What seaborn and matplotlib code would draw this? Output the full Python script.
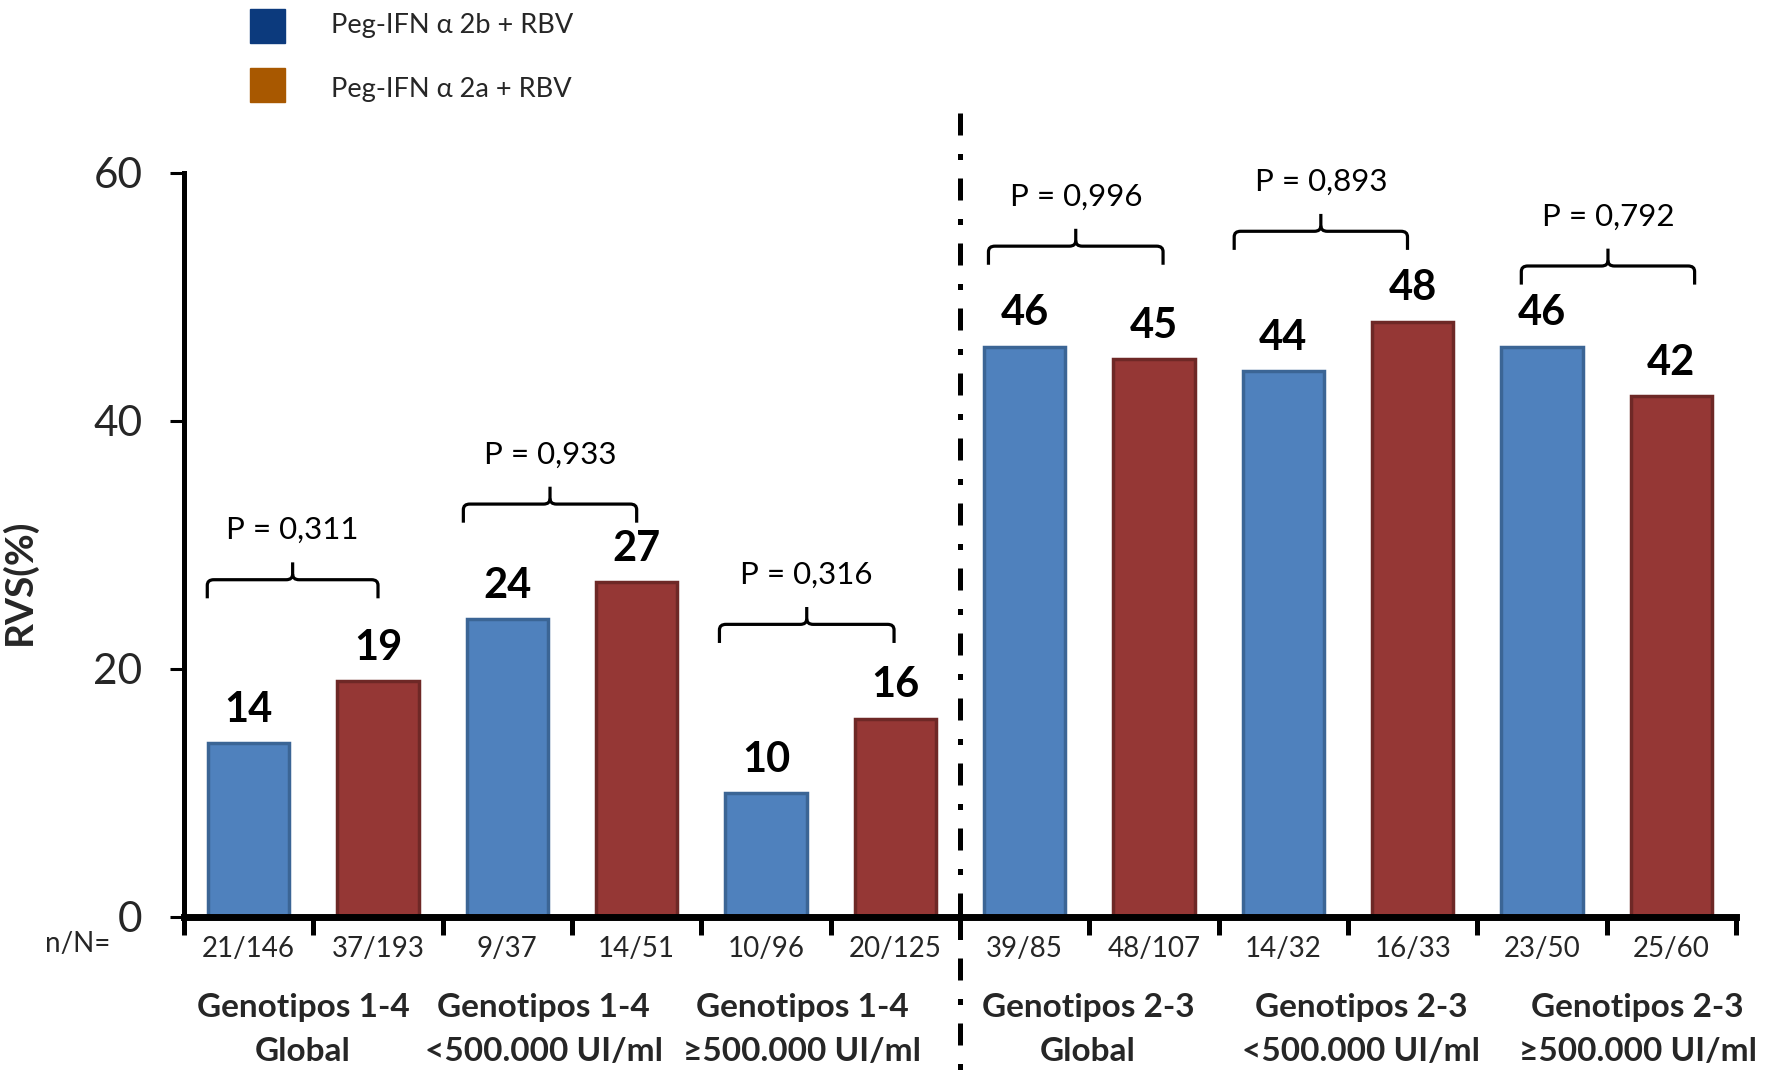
import numpy as np
import pandas as pd
import matplotlib
matplotlib.use("Agg")
import matplotlib.pyplot as plt
import matplotlib.transforms as mtransforms
from matplotlib.patches import Rectangle, PathPatch
from matplotlib.path import Path
import seaborn as sns

# ---------------- data ----------------
treatments = ["Peg-IFN α 2b + RBV", "Peg-IFN α 2a + RBV"]
nN_labels = ["21/146", "37/193", "9/37", "14/51", "10/96", "20/125",
             "39/85", "48/107", "14/32", "16/33", "23/50", "25/60"]
rvs_values = [14, 19, 24, 27, 10, 16, 46, 45, 44, 48, 46, 42]
bar_treatment = ["Peg-IFN α 2b + RBV", "Peg-IFN α 2a + RBV",
                 "Peg-IFN α 2b + RBV", "Peg-IFN α 2a + RBV",
                 "Peg-IFN α 2b + RBV", "Peg-IFN α 2a + RBV",
                 "Peg-IFN α 2b + RBV", "Peg-IFN α 2a + RBV",
                 "Peg-IFN α 2b + RBV", "Peg-IFN α 2a + RBV",
                 "Peg-IFN α 2b + RBV", "Peg-IFN α 2a + RBV"]
group_labels = ["Genotipos 1-4\nGlobal", "Genotipos 1-4\n<500.000 UI/ml",
                "Genotipos 1-4\n≥500.000 UI/ml", "Genotipos 2-3\nGlobal",
                "Genotipos 2-3\n<500.000 UI/ml", "Genotipos 2-3\n≥500.000 UI/ml"]
p_labels = ["P = 0,311", "P = 0,933", "P = 0,316", "P = 0,996", "P = 0,893", "P = 0,792"]
y_ticks = [0, 20, 40, 60]

# ---------------- layout / style ----------------
bar_colors = ["#4F81BD", "#953735"]
bar_edges = {"#4f81bd": "#3B6595", "#953735": "#6E2826"}
legend_colors = ["#0C3A7D", "#A85800"]
group_label_x = [0.42, 2.28, 4.28, 6.49, 8.6, 10.74]
bracket_x = [(-0.32, 1.0), (1.66, 3.0), (3.64, 4.99), (5.72, 7.07), (7.62, 8.96), (9.84, 11.18)]
bracket_y = [27.2, 33.3, 23.6, 54.1, 55.3, 52.5]

sns.set_theme(style="ticks")
plt.rcParams["font.family"] = ["Lato", "DejaVu Sans"]

W, H = 1771, 1088
fig = plt.figure(figsize=(W / 100, H / 100), dpi=100)
ax = fig.add_axes([184 / W, 1 - 917 / H, (1736 - 184) / W, (917 - 173) / H])

df = pd.DataFrame({"nN": nN_labels, "RVS": rvs_values, "Tratamiento": bar_treatment})
sns.barplot(data=df, x="nN", y="RVS", hue="Tratamiento", order=nN_labels,
            hue_order=treatments, palette=bar_colors, dodge=False, width=0.63,
            legend=False, ax=ax, saturation=1)

for p in ax.patches:
    fc = matplotlib.colors.to_hex(p.get_facecolor()).lower()
    p.set_edgecolor(bar_edges.get(fc, "#333333"))
    p.set_linewidth(2.5)
    h = p.get_height()
    if np.isfinite(h) and h > 0:
        ax.annotate(f"{h:.0f}", (p.get_x() + p.get_width() / 2, h),
                    xytext=(0, 24), textcoords="offset points",
                    ha="center", va="center", fontsize=30, fontweight="bold",
                    color="black")

ax.set_xlim(-0.5, 11.5)
ax.set_ylim(0, 60)
ax.set_yticks(y_ticks)
ax.tick_params(axis="y", labelsize=30.5, length=10, width=2.2, pad=20, color="black")
ax.set_xticks(range(len(nN_labels)))
ax.set_xticklabels(nN_labels)
ax.tick_params(axis="x", which="major", length=0, labelsize=20, pad=14)
ax.set_xticks(np.arange(-0.5, 12, 1.0), minor=True)
ax.tick_params(axis="x", which="minor", length=13, width=3.6, color="black")
ax.set_xlabel("")
ax.set_ylabel("RVS(%)", fontsize=28, fontweight="bold")
ax.yaxis.set_label_coords(-0.095, 0.45)

for s in ["top", "right"]:
    ax.spines[s].set_visible(False)
ax.spines["left"].set_linewidth(3.6)
ax.spines["bottom"].set_linewidth(5)
ax.spines["left"].set_color("black")
ax.spines["bottom"].set_color("black")

# divider line
trans = mtransforms.blended_transform_factory(ax.transData, ax.transAxes)
ax.plot([5.5, 5.5], [1.08, -0.23], transform=trans, clip_on=False, color="black",
        lw=3.6, linestyle=(0, (4.4, 3.7, 1.2, 3.7)), solid_capstyle="butt")

# group labels
for gx, lab in zip(group_label_x, group_labels):
    ax.text(gx, -0.151, lab, transform=trans, ha="center", va="center",
            fontsize=24, fontweight="bold", linespacing=1.65, multialignment="center")

# brackets and p labels
for (x0, x1), yb, pl in zip(bracket_x, bracket_y, p_labels):
    xc = (x0 + x1) / 2
    d = 0.05
    r = 0.45
    verts = [(x0, yb - 1.5), (x0, yb - r), (x0, yb), (x0 + d, yb),
             (xc - d, yb), (xc, yb), (xc, yb + r), (xc, yb + 1.4)]
    codes = [Path.MOVETO, Path.LINETO, Path.CURVE3, Path.CURVE3,
             Path.LINETO, Path.CURVE3, Path.CURVE3, Path.LINETO]
    ax.add_patch(PathPatch(Path(verts, codes), fill=False, lw=2.3, color="black", clip_on=False))
    verts = [(x1, yb - 1.5), (x1, yb - r), (x1, yb), (x1 - d, yb),
             (xc + d, yb), (xc, yb), (xc, yb + r)]
    codes = [Path.MOVETO, Path.LINETO, Path.CURVE3, Path.CURVE3,
             Path.LINETO, Path.CURVE3, Path.CURVE3]
    ax.add_patch(PathPatch(Path(verts, codes), fill=False, lw=2.3, color="black", clip_on=False))
    ax.text(xc, yb + 4.0, pl, ha="center", va="center", fontsize=22.5, color="black")

# n/N= label
fig.text(45 / W, 1 - 944 / H, "n/N=", ha="left", va="center", fontsize=20)

# legend
for i, (lab, col) in enumerate(zip(treatments, legend_colors)):
    top = [9, 68][i]
    fig.patches.append(Rectangle((250 / W, 1 - (top + 34) / H), 35 / W, 34 / H,
                                 transform=fig.transFigure, facecolor=col,
                                 edgecolor=col, figure=fig))
    fig.text(331 / W, 1 - [26, 89][i] / H, lab, ha="left", va="center", fontsize=19.5)

fig.savefig("out.png", dpi=100, facecolor="white")
